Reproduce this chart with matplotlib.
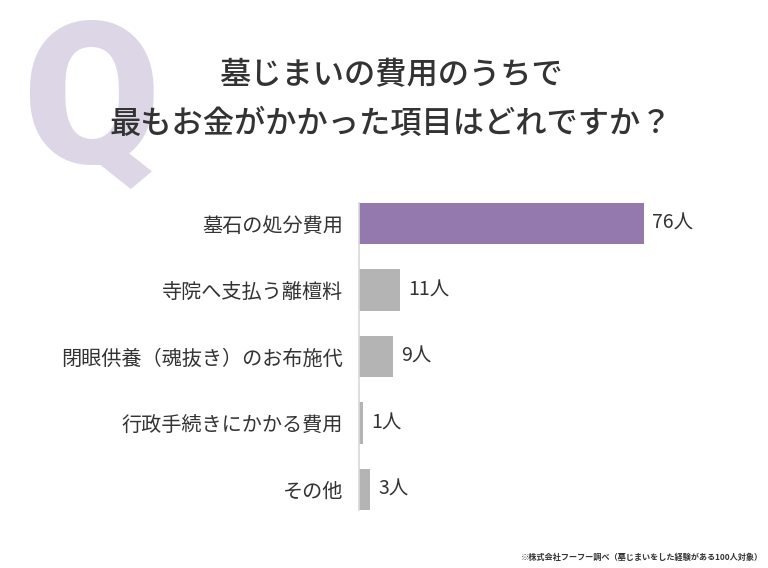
import matplotlib
matplotlib.use("Agg")
import matplotlib.pyplot as plt

plt.rcParams['font.family'] = ['Noto Sans CJK JP', 'DejaVu Sans']

categories = ["墓石の処分費用", "寺院へ支払う離檀料", "閉眼供養（魂抜き）のお布施代",
              "行政手続きにかかる費用", "その他"]
values = [76, 11, 9, 1, 3]
value_labels = ["76人", "11人", "9人", "1人", "3人"]
bar_colors = ["#9479ae", "#b4b4b4", "#b4b4b4", "#b4b4b4", "#b4b4b4"]
title_lines = ["墓じまいの費用のうちで", "最もお金がかかった項目はどれですか？"]
footnote = "※株式会社フーフー調べ（墓じまいをした経験がある100人対象）"

W, H = 768, 568
fig = plt.figure(figsize=(W / 100, H / 100), dpi=100)
fig.patch.set_facecolor("white")

# Big decorative Q
fig.text(92 / W, 1 - 163 / H, "Q", family=["Roboto", "DejaVu Sans"], weight="black",
         fontsize=143, color="#ddd6e7", ha="center", va="baseline", zorder=0)

# Title
fig.text(391 / W, 1 - 75 / H, title_lines[0], fontsize=22.5, weight="medium",
         color="#333333", ha="center", va="center", zorder=2)
fig.text(391 / W, 1 - 124 / H, title_lines[1], fontsize=22.5, weight="medium",
         color="#333333", ha="center", va="center", zorder=2)

# Axes
ax_left, ax_right = 359, 719
ax_top, ax_bottom = 203, 510
ax = fig.add_axes([ax_left / W, 1 - ax_bottom / H, (ax_right - ax_left) / W,
                   (ax_bottom - ax_top) / H])
ax.patch.set_alpha(0)
bar_h = 0.62
y = list(range(len(categories)))
ax.barh(y, values, height=bar_h, color=bar_colors, zorder=2)
ax.set_xlim(0, 96)
ax.set_ylim(len(categories) - 1 + bar_h / 2, -bar_h / 2)

for s in ["top", "right", "bottom"]:
    ax.spines[s].set_visible(False)
ax.spines["left"].set_color("#d9d9d9")
ax.spines["left"].set_linewidth(1.2)
ax.set_xticks([])
ax.set_yticks(y)
ax.set_yticklabels(categories, fontsize=14.5, color="#333333")
ax.tick_params(axis="y", length=0, pad=11.5)

for yi, v, lab in zip(y, values, value_labels):
    ax.annotate(lab, (v, yi), xytext=(6, 0), textcoords="offset points",
                fontsize=14, color="#333333", ha="left", va="center")

fig.text(763 / W, 1 - 557 / H, footnote, fontsize=5.9, weight="bold",
         color="#333333", ha="right", va="center")

fig.savefig("out.png", dpi=100, facecolor="white")
